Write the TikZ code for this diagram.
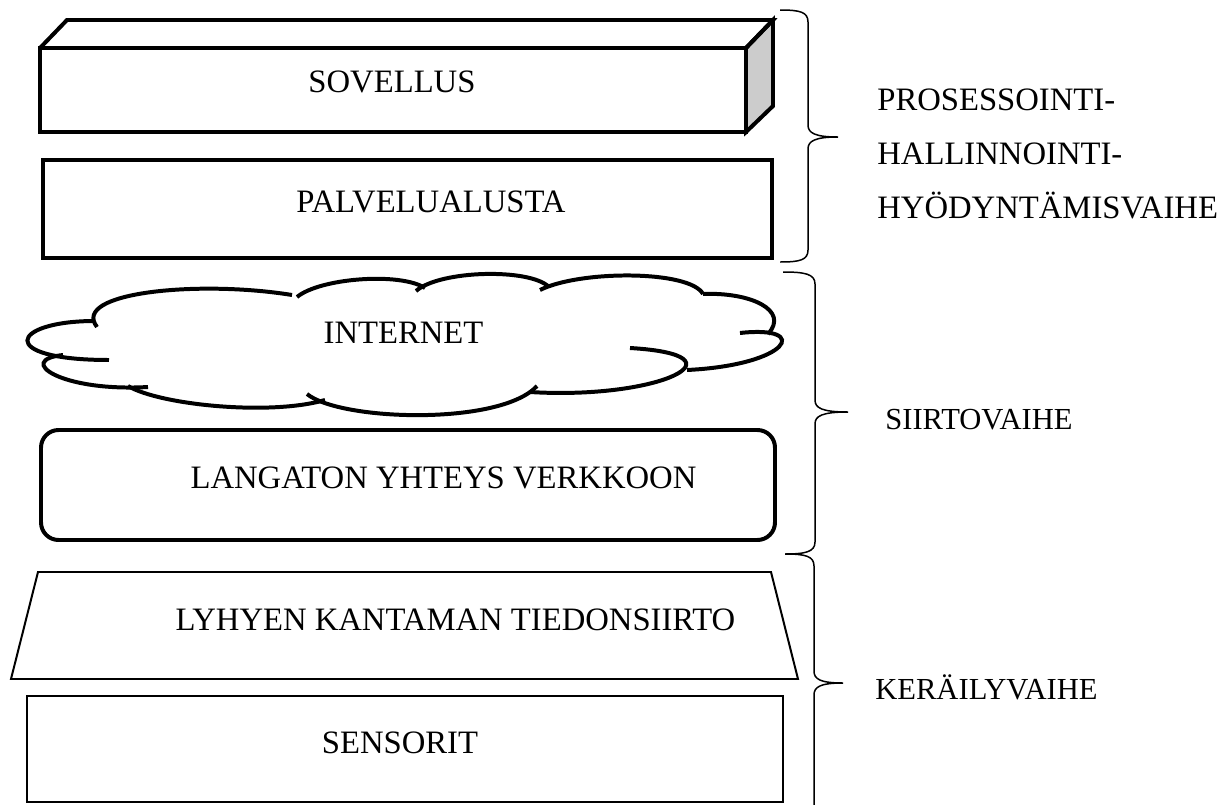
\documentclass[tikz,border=0pt]{standalone}
\usepackage{fontspec}
\setmainfont{Liberation Serif}
\newfontfamily\tnr{Liberation Serif}
\begin{document}
\begin{tikzpicture}[x=0.02cm,y=-0.02cm,
  thickln/.style={line width=2.27pt},
  thinln/.style={line width=1.13pt},
  bracel/.style={line width=0.85pt},
  bigtxt/.style={font=\tnr\fontsize{18.6}{22}\selectfont, inner sep=0pt},
  smalltxt/.style={font=\tnr\fontsize{17.4}{21}\selectfont, inner sep=0pt}]
\useasboundingbox (0,0) rectangle (1225,805);

% SOVELLUS cuboid
\draw[thickln, fill=black!20] (746,48) -- (773,20) -- (773,106) -- (746,132) -- cycle;
\draw[thickln] (40,48) -- (67,20) -- (773,20) -- (746,48);
\draw[thickln] (40,48) rectangle (746,132);
\node[bigtxt, anchor=base] (sov) at (392,92) {SOVELLUS};

% PALVELUALUSTA
\draw[thickln] (43,160) rectangle (772,258);
\node[bigtxt, anchor=base] (pal) at (431,212) {PALVELUALUSTA};

% INTERNET cloud
\begin{scope}[thickln]
\draw (95,321) .. controls (10,321) and (-5,360) .. (109,360);
\draw (63,355) .. controls (15,360) and (60,392) .. (148,387);
\draw (128,386) .. controls (160,405) and (270,416) .. (325,400);
\draw (307,394) .. controls (340,421) and (500,426) .. (537,386);
\draw (530,392) .. controls (660,400) and (750,355) .. (630,348);
\draw (687,370) .. controls (790,365) and (812,325) .. (740,333);
\draw (768,334) .. controls (790,310) and (750,292) .. (703,294);
\draw (703,294) .. controls (690,270) and (580,270) .. (540,290);
\draw (549,287) .. controls (530,268) and (440,270) .. (416,291);
\draw (297,297) .. controls (320,278) and (400,272) .. (425,288);
\draw (292,295) .. controls (200,280) and (70,292) .. (97,327);
\end{scope}
\node[bigtxt, anchor=base] (inet) at (403.5,343) {INTERNET};

% LANGATON
\draw[thickln, rounded corners=10pt] (41,430) rectangle (775,540);
\node[bigtxt, anchor=base] (lang) at (443.5,488) {LANGATON YHTEYS VERKKOON};

% LYHYEN KANTAMAN
\draw[thinln] (38,572) -- (771,572) -- (798,679) -- (11,679) -- cycle;
\node[bigtxt, anchor=base] (lyh) at (455.5,630) {LYHYEN KANTAMAN TIEDONSIIRTO};

% SENSORIT
\draw[thinln] (27,696) rectangle (783,802);
\node[bigtxt, anchor=base] (sens) at (400,753) {SENSORIT};

% braces
\draw[bracel] (780,10) .. controls (800,10) and (808,12) .. (808,22) -- (808,125)
  .. controls (808,133) and (815,137) .. (838,137)
  .. controls (815,137) and (808,141) .. (808,149) -- (808,250)
  .. controls (808,260) and (800,262) .. (780,262);
\draw[bracel] (783,272) .. controls (805,272) and (815,274) .. (815,284) -- (815,400)
  .. controls (815,408) and (822,412) .. (848,412)
  .. controls (822,412) and (815,416) .. (815,424) -- (815,542)
  .. controls (815,552) and (805,554) .. (785,554);
\draw[bracel] (785,554) .. controls (805,554) and (814,556) .. (814,566) -- (814,671)
  .. controls (814,679) and (820,683) .. (843,683)
  .. controls (820,683) and (814,687) .. (814,695) -- (814,805);

% labels
\node[bigtxt, anchor=base west] (p1) at (877,110) {PROSESSOINTI-};
\node[bigtxt, anchor=base west] (p2) at (877,164) {HALLINNOINTI-};
\node[bigtxt, anchor=base west] (p3) at (877,218) {HYÖDYNTÄMISVAIHE};
\node[smalltxt, anchor=base west] (siir) at (885,429) {SIIRTOVAIHE};
\node[smalltxt, anchor=base west] (ker) at (875,699) {KERÄILYVAIHE};
\end{tikzpicture}
\end{document}
